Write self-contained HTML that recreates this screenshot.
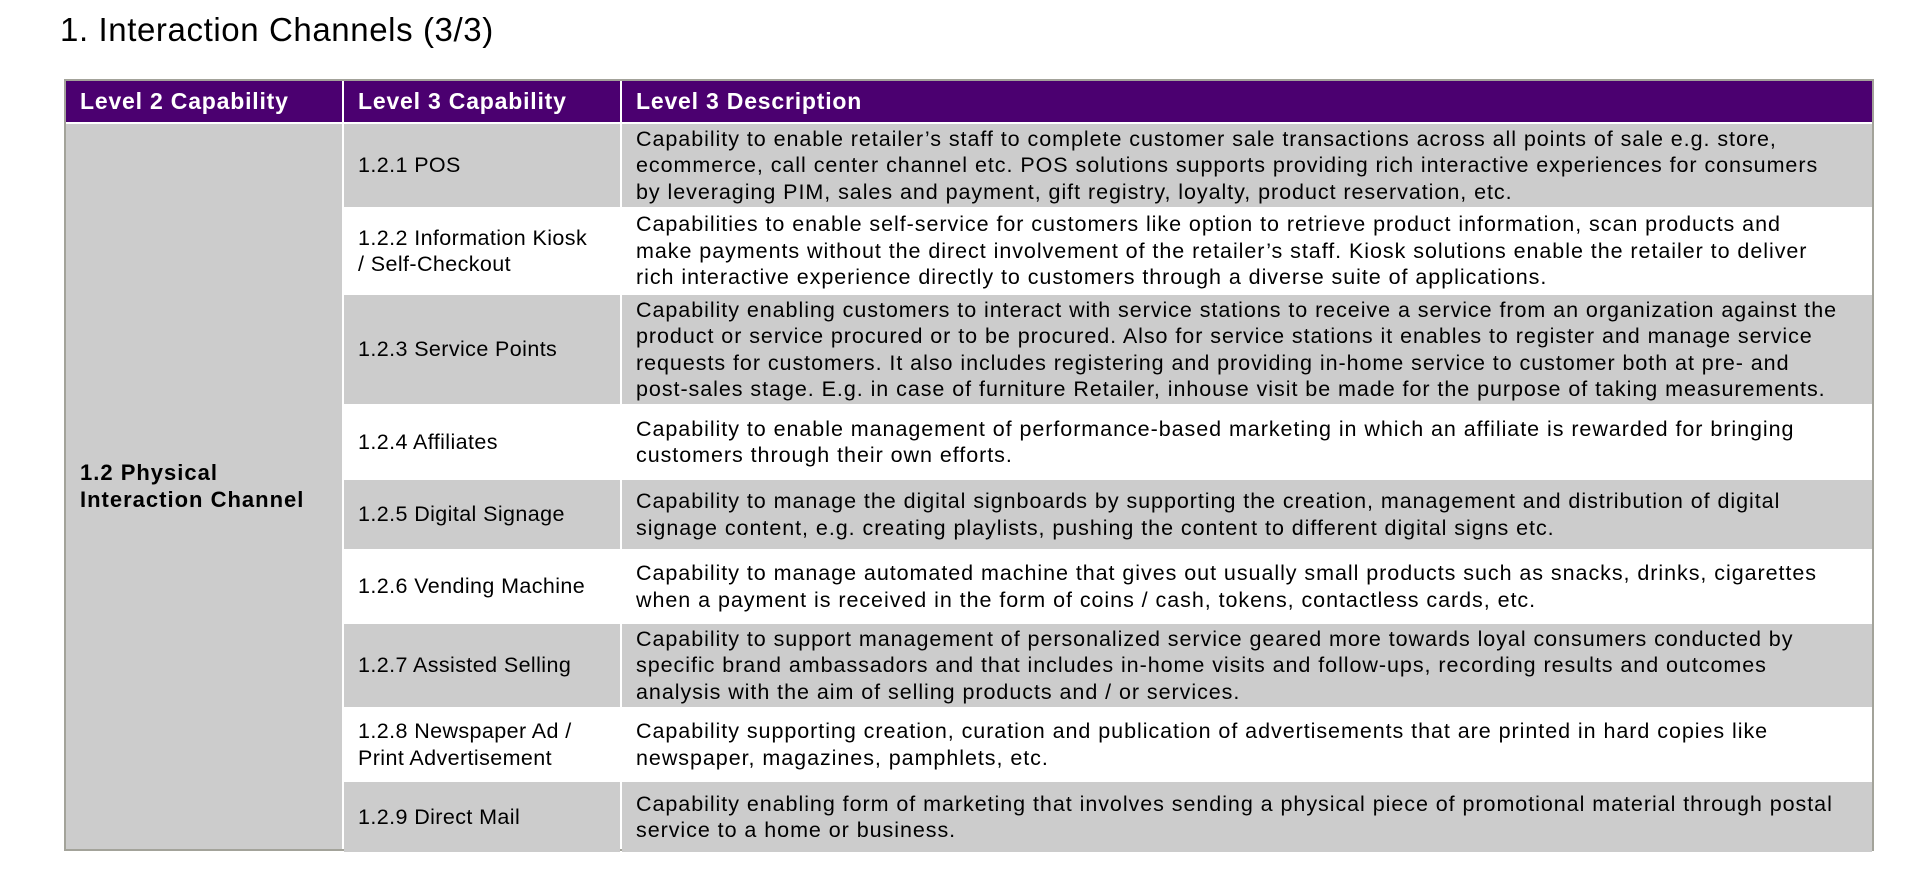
<!DOCTYPE html>
<html><head><meta charset="utf-8"><style>
body{margin:0;width:1912px;height:871px;background:#fff;position:relative;overflow:hidden;font-family:"Liberation Sans",sans-serif;color:#000}
.title{position:absolute;left:60px;top:10px;font-size:33px;line-height:40px;letter-spacing:0.6px}
.tbl{position:absolute;left:64px;top:79px;width:1810px;height:772px;border:2px solid #a3a39a;box-sizing:border-box;background:#fff}
.c{position:absolute;box-sizing:border-box;display:flex;align-items:center;font-size:21.5px;line-height:26.4px;white-space:nowrap;letter-spacing:0.4px}
.d{letter-spacing:0.95px}
.h{background:#4b0070;color:#fff;font-weight:bold;font-size:23px;padding-left:14px;letter-spacing:0.8px}
.g{background:#cccccc}
.w{background:#fff}
</style></head><body>
<div class="title">1. Interaction Channels (3/3)</div>
<div class="tbl">
<div class="c h" style="left:0;top:0;width:276px;height:41px">Level 2 Capability</div>
<div class="c h" style="left:278px;top:0;width:276px;height:41px">Level 3 Capability</div>
<div class="c h" style="left:556px;top:0;width:1250px;height:41px">Level 3 Description</div>
<div class="c g" style="left:0;top:43px;width:276px;height:725px;padding-left:14px;font-weight:bold;font-size:22px;letter-spacing:1px">1.2 Physical<br>Interaction Channel</div>
<div id="rows"></div>
</div>
<script>
const names=["1.2.1 POS","1.2.2 Information Kiosk<br>/ Self-Checkout","1.2.3 Service Points","1.2.4 Affiliates","1.2.5 Digital Signage","1.2.6 Vending Machine","1.2.7 Assisted Selling","1.2.8 Newspaper Ad /<br>Print Advertisement","1.2.9 Direct Mail"];
const descs=[
"Capability to enable retailer’s staff to complete customer sale transactions across all points of sale e.g. store,<br>ecommerce, call center channel etc. POS solutions supports providing rich interactive experiences for consumers<br>by leveraging PIM, sales and payment, gift registry, loyalty, product reservation, etc.",
"Capabilities to enable self-service for customers like option to retrieve product information, scan products and<br>make payments without the direct involvement of the retailer’s staff. Kiosk solutions enable the retailer to deliver<br>rich interactive experience directly to customers through a diverse suite of applications.",
"Capability enabling customers to interact with service stations to receive a service from an organization against the<br>product or service procured or to be procured. Also for service stations it enables to register and manage service<br>requests for customers. It also includes registering and providing in-home service to customer both at pre- and<br>post-sales stage. E.g. in case of furniture Retailer, inhouse visit be made for the purpose of taking measurements.",
"Capability to enable management of performance-based marketing in which an affiliate is rewarded for bringing<br>customers through their own efforts.",
"Capability to manage the digital signboards by supporting the creation, management and distribution of digital<br>signage content, e.g. creating playlists, pushing the content to different digital signs etc.",
"Capability to manage automated machine that gives out usually small products such as snacks, drinks, cigarettes<br>when a payment is received in the form of coins / cash, tokens, contactless cards, etc.",
"Capability to support management of personalized service geared more towards loyal consumers conducted by<br>specific brand ambassadors and that includes in-home visits and follow-ups, recording results and outcomes<br>analysis with the aim of selling products and / or services.",
"Capability supporting creation, curation and publication of advertisements that are printed in hard copies like<br>newspaper, magazines, pamphlets, etc.",
"Capability enabling form of marketing that involves sending a physical piece of promotional material through postal<br>service to a home or business."];
const bounds=[121,206,292,403,477,548,621,706,779,851];
const root=document.getElementById('rows');
for(let i=0;i<names.length;i++){
 const top=bounds[i]-79+1, h=bounds[i+1]-bounds[i]-2;
 const cls=i%2===0?'g':'w';
 const a=document.createElement('div');
 a.className='c '+cls;a.style.cssText=`left:278px;top:${top}px;width:276px;height:${h}px;padding-left:14px`;
 a.innerHTML=names[i];
 
 
 root.appendChild(a);
 const b=document.createElement('div');
 b.className='c d '+cls;b.style.cssText=`left:556px;top:${top}px;width:1250px;height:${h}px;padding-left:14px`;
 b.innerHTML=descs[i];
 
 
 root.appendChild(b);
}
</script>
</body></html>
